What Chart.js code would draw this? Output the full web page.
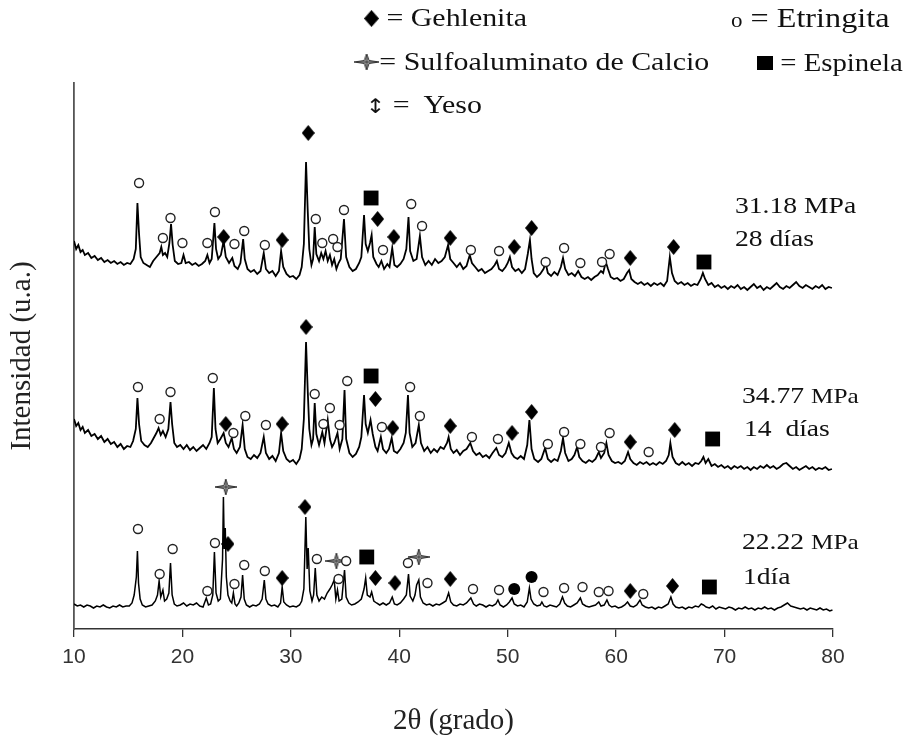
<!DOCTYPE html>
<html>
<head>
<meta charset="utf-8">
<script src="https://cdn.jsdelivr.net/npm/chart.js@4.4.1/dist/chart.umd.min.js"></script>
<style>
  body { margin: 0; background: #fff; }
  #wrap { position: relative; width: 904px; height: 740px; overflow: hidden; }
  #chart { position: absolute; left: 0; top: 0; }
  .t { position: absolute; font-family: 'Liberation Serif', 'Times New Roman', serif; color: #111;
       white-space: nowrap; line-height: 1; transform-origin: 0 50%; transform: scaleX(1.15); }
  .t canvas { vertical-align: middle; position: relative; top: -2px; }
</style>
</head>
<body>
<div id="wrap">
  <canvas id="chart" width="904" height="740"></canvas>

  <!-- legend -->
  <div class="t" style="left:364px;top:5px;font-size:26px"><canvas id="legDia" width="13" height="17"></canvas> = Gehlenita</div>
  <div class="t" style="left:731px;top:4px;font-size:28px"><span style="font-size:20px">o</span> = Etringita</div>
  <div class="t" style="left:354px;top:49px;font-size:26px"><canvas id="legSpark" width="22" height="16"></canvas>= Sulfoaluminato de Calcio</div>
  <div class="t" style="left:757px;top:50px;font-size:25px"><canvas id="legSq" width="14" height="14"></canvas> = Espinela</div>
  <div class="t" style="left:366px;top:92px;font-size:26px"><span style="font-family:'DejaVu Sans';font-size:20px">↕</span> =&nbsp; Yeso</div>

  <!-- sample labels -->
  <div class="t" style="left:735px;top:193px;font-size:24px">31.18 MPa</div>
  <div class="t" style="left:735px;top:226px;font-size:24px">28 días</div>
  <div class="t" style="left:742px;top:383px;font-size:24px">34.77 <span style="font-size:22px">MPa</span></div>
  <div class="t" style="left:744px;top:416px;font-size:24px">14&nbsp; días</div>
  <div class="t" style="left:742px;top:529px;font-size:24px">22.22 <span style="font-size:22px">MPa</span></div>
  <div class="t" style="left:743px;top:564px;font-size:24px">1día</div>
</div>

<script>
// 2theta range and tick labels
const xTicks = [10, 20, 30, 40, 50, 60, 70, 80];

// diffractograms [2theta, intensity]
const trace28 = [[10.0,388],[10.2,380],[10.4,384],[10.6,377],[10.8,379],[11.0,374],[11.3,376],[11.6,371],[11.9,373],[12.2,369],[12.5,371],[12.8,367],[13.1,369],[13.4,366],[13.7,368],[14.0,365],[14.3,367],[14.6,364],[14.9,366],[15.2,365],[15.5,370],[15.7,380],[15.85,426],[16.0,395],[16.15,372],[16.4,366],[16.7,364],[17.0,362],[17.3,368],[17.6,372],[17.9,376],[18.05,382],[18.2,374],[18.4,376],[18.6,372],[18.8,386],[18.95,405],[19.1,384],[19.3,368],[19.6,365],[19.9,366],[20.1,374],[20.3,366],[20.6,367],[20.9,364],[21.2,366],[21.5,363],[21.8,365],[22.1,368],[22.3,374],[22.5,366],[22.7,370],[22.95,406],[23.1,380],[23.3,370],[23.55,374],[23.8,388],[24.0,372],[24.3,366],[24.6,371],[24.8,363],[25.1,360],[25.35,366],[25.6,390],[25.75,370],[26.0,360],[26.3,357],[26.6,359],[26.9,355],[27.2,358],[27.5,376],[27.7,360],[28.0,356],[28.3,358],[28.6,353],[28.9,358],[29.1,378],[29.3,362],[29.6,355],[29.9,352],[30.2,353],[30.5,350],[30.8,354],[31.0,362],[31.2,385],[31.4,467],[31.55,420],[31.7,380],[31.9,364],[32.05,370],[32.2,402],[32.35,375],[32.6,368],[32.8,376],[33.0,370],[33.2,378],[33.4,368],[33.6,374],[33.8,364],[34.0,370],[34.2,360],[34.4,366],[34.6,370],[34.9,410],[35.1,372],[35.4,362],[35.7,358],[36.0,360],[36.3,366],[36.5,372],[36.75,414],[36.9,385],[37.1,378],[37.3,386],[37.45,394],[37.6,372],[37.9,365],[38.1,362],[38.35,368],[38.6,360],[38.9,365],[39.1,362],[39.35,381],[39.55,364],[39.8,362],[40.1,365],[40.4,370],[40.65,380],[40.85,412],[41.0,378],[41.3,368],[41.6,370],[41.9,393],[42.1,372],[42.4,364],[42.7,368],[43.0,364],[43.3,370],[43.6,366],[43.9,368],[44.2,372],[44.5,384],[44.7,370],[45.0,366],[45.3,362],[45.6,366],[45.9,360],[46.2,363],[46.5,374],[46.7,366],[47.0,362],[47.3,358],[47.6,360],[47.9,356],[48.2,358],[48.5,360],[48.8,364],[49.0,368],[49.2,360],[49.5,358],[49.8,362],[50.0,366],[50.2,372],[50.4,362],[50.7,358],[51.0,360],[51.3,356],[51.6,360],[51.85,375],[52.05,389],[52.2,370],[52.4,356],[52.7,352],[53.0,355],[53.3,360],[53.5,366],[53.7,356],[54.0,353],[54.3,357],[54.6,354],[54.9,362],[55.1,371],[55.3,360],[55.6,354],[55.9,356],[56.2,353],[56.5,358],[56.8,352],[57.1,350],[57.4,352],[57.7,349],[58.0,352],[58.3,354],[58.6,358],[58.8,356],[59.05,367],[59.25,360],[59.5,352],[59.8,350],[60.1,351],[60.4,348],[60.7,350],[61.0,356],[61.2,359],[61.4,350],[61.7,347],[62.0,345],[62.3,347],[62.6,344],[62.9,346],[63.2,343],[63.5,346],[63.8,344],[64.1,346],[64.4,343],[64.7,348],[64.95,372],[65.15,356],[65.4,348],[65.7,345],[66.0,347],[66.3,344],[66.6,346],[66.9,343],[67.2,345],[67.5,344],[67.8,350],[68.0,356],[68.2,350],[68.5,344],[68.8,346],[69.1,342],[69.4,344],[69.7,341],[70.0,343],[70.3,340],[70.6,343],[70.9,341],[71.2,344],[71.5,340],[71.8,342],[72.1,339],[72.4,342],[72.7,345],[73.0,341],[73.3,343],[73.6,339],[73.9,342],[74.2,340],[74.5,343],[74.8,346],[75.1,342],[75.4,340],[75.7,343],[76.0,341],[76.3,344],[76.6,347],[76.9,343],[77.2,341],[77.5,344],[77.8,342],[78.1,340],[78.4,343],[78.7,341],[79.0,344],[79.3,340],[79.6,342],[79.9,341]];

const trace14 = [[10.0,210],[10.2,203],[10.4,206],[10.6,199],[10.8,202],[11.0,196],[11.3,199],[11.6,193],[11.9,195],[12.2,190],[12.5,193],[12.8,187],[13.1,190],[13.4,185],[13.7,187],[14.0,182],[14.3,185],[14.6,180],[14.9,183],[15.2,182],[15.45,188],[15.7,200],[15.85,231],[16.0,205],[16.2,188],[16.5,184],[16.8,182],[17.1,186],[17.4,192],[17.6,196],[17.8,201],[18.0,194],[18.2,198],[18.45,192],[18.7,200],[18.9,227],[19.05,205],[19.25,186],[19.5,182],[19.8,184],[20.1,180],[20.4,184],[20.7,179],[21.0,182],[21.3,178],[21.6,181],[21.9,184],[22.2,180],[22.5,186],[22.7,192],[22.9,241],[23.05,200],[23.25,186],[23.5,190],[23.8,196],[24.0,186],[24.25,182],[24.55,191],[24.75,180],[25.0,176],[25.3,182],[25.55,204],[25.75,180],[26.0,172],[26.3,170],[26.6,174],[26.9,171],[27.2,176],[27.5,192],[27.7,176],[28.0,170],[28.3,173],[28.6,168],[28.9,176],[29.1,196],[29.3,178],[29.6,170],[29.9,167],[30.2,169],[30.5,165],[30.8,170],[31.0,180],[31.2,210],[31.4,287],[31.55,240],[31.7,200],[31.9,184],[32.05,190],[32.2,226],[32.35,195],[32.6,184],[32.9,197],[33.1,186],[33.4,209],[33.6,190],[33.8,182],[34.0,186],[34.3,196],[34.5,180],[34.75,190],[34.95,239],[35.1,190],[35.4,176],[35.7,172],[36.0,175],[36.3,182],[36.5,192],[36.75,234],[36.9,205],[37.1,196],[37.35,209],[37.55,195],[37.8,182],[38.0,178],[38.3,192],[38.5,180],[38.8,176],[39.05,180],[39.3,191],[39.5,178],[39.8,176],[40.1,180],[40.4,186],[40.6,196],[40.8,234],[40.95,196],[41.2,182],[41.5,186],[41.8,204],[42.0,186],[42.3,178],[42.6,182],[42.9,176],[43.2,180],[43.5,177],[43.8,182],[44.1,180],[44.4,186],[44.55,192],[44.75,180],[45.0,176],[45.3,179],[45.6,174],[45.9,178],[46.2,180],[46.55,186],[46.8,178],[47.1,174],[47.4,176],[47.7,172],[48.0,174],[48.3,171],[48.6,176],[48.95,181],[49.2,174],[49.5,172],[49.8,176],[50.1,186],[50.35,176],[50.6,172],[50.9,170],[51.2,173],[51.5,170],[51.8,184],[52.0,209],[52.2,180],[52.45,170],[52.8,167],[53.1,170],[53.45,181],[53.7,170],[54.0,167],[54.3,170],[54.6,168],[54.9,178],[55.1,191],[55.3,176],[55.6,168],[55.9,170],[56.15,174],[56.4,182],[56.6,172],[56.9,168],[57.2,166],[57.5,169],[57.8,167],[58.1,170],[58.4,177],[58.6,171],[58.9,176],[59.1,186],[59.3,174],[59.6,168],[59.9,166],[60.2,167],[60.5,165],[60.8,168],[61.1,177],[61.3,170],[61.6,166],[61.9,164],[62.2,167],[62.5,165],[62.8,167],[63.1,164],[63.4,166],[63.7,164],[64.0,167],[64.3,165],[64.6,168],[64.85,174],[65.0,186],[65.2,172],[65.5,166],[65.8,164],[66.1,167],[66.4,164],[66.7,166],[67.0,163],[67.3,166],[67.6,165],[67.85,168],[68.05,172],[68.25,166],[68.5,170],[68.8,163],[69.1,165],[69.4,162],[69.7,164],[70.0,161],[70.3,163],[70.6,160],[70.9,163],[71.2,161],[71.5,163],[71.8,160],[72.1,162],[72.4,159],[72.7,162],[73.0,160],[73.3,163],[73.6,161],[73.9,164],[74.2,161],[74.5,163],[74.8,160],[75.1,162],[75.4,165],[75.7,166],[76.0,163],[76.3,160],[76.6,162],[76.9,159],[77.2,161],[77.5,163],[77.8,160],[78.1,162],[78.4,159],[78.7,161],[79.0,160],[79.3,162],[79.6,159],[79.9,160]];

const trace1 = [[10.0,25],[10.3,23],[10.6,24],[10.9,22],[11.2,24],[11.5,23],[11.8,21],[12.1,23],[12.4,22],[12.7,24],[13.0,22],[13.3,21],[13.6,23],[13.9,22],[14.2,24],[14.5,22],[14.8,23],[15.1,23],[15.35,26],[15.55,34],[15.75,52],[15.85,78],[15.95,46],[16.1,30],[16.3,24],[16.6,22],[16.9,23],[17.2,24],[17.5,28],[17.7,34],[17.85,48],[18.0,32],[18.2,39],[18.35,28],[18.55,30],[18.75,36],[18.9,66],[19.05,34],[19.25,25],[19.5,23],[19.8,24],[20.1,26],[20.4,23],[20.7,25],[21.0,24],[21.3,26],[21.6,23],[21.9,22],[22.2,31],[22.4,24],[22.6,25],[22.8,34],[22.95,77],[23.1,36],[23.3,28],[23.5,30],[23.7,70],[23.78,132],[23.86,80],[23.95,101],[24.05,52],[24.2,34],[24.4,28],[24.55,26],[24.7,36],[24.85,25],[25.0,23],[25.2,26],[25.4,32],[25.55,54],[25.7,30],[25.9,24],[26.2,22],[26.5,24],[26.8,23],[27.1,25],[27.35,30],[27.55,49],[27.7,30],[27.9,25],[28.2,23],[28.5,24],[28.8,22],[29.05,26],[29.2,42],[29.35,27],[29.6,24],[29.9,22],[30.2,23],[30.5,22],[30.8,24],[31.0,28],[31.2,40],[31.38,112],[31.5,60],[31.6,81],[31.75,38],[31.95,28],[32.1,34],[32.25,61],[32.4,34],[32.6,28],[32.85,32],[33.1,30],[33.35,36],[33.6,40],[33.8,44],[34.0,49],[34.15,30],[34.3,39],[34.45,28],[34.7,30],[34.95,59],[35.1,32],[35.35,26],[35.6,24],[35.9,25],[36.2,27],[36.5,30],[36.75,40],[36.9,51],[37.05,34],[37.3,32],[37.45,37],[37.65,28],[37.9,26],[38.2,24],[38.5,26],[38.8,24],[39.1,26],[39.35,32],[39.55,25],[39.8,24],[40.1,26],[40.4,30],[40.65,34],[40.85,55],[41.0,33],[41.25,28],[41.45,34],[41.6,44],[41.8,49],[41.95,32],[42.2,26],[42.5,24],[42.8,25],[43.1,23],[43.4,25],[43.7,24],[44.0,26],[44.3,28],[44.55,36],[44.75,27],[45.0,24],[45.3,23],[45.6,25],[45.9,24],[46.2,26],[46.6,31],[46.85,25],[47.1,23],[47.4,25],[47.7,24],[48.0,22],[48.3,24],[48.6,23],[48.9,25],[49.1,29],[49.3,24],[49.6,22],[49.9,24],[50.15,27],[50.4,31],[50.6,25],[50.9,23],[51.2,24],[51.5,22],[51.8,27],[52.0,41],[52.15,30],[52.4,25],[52.7,23],[53.0,24],[53.15,27],[53.35,23],[53.6,22],[53.9,24],[54.2,23],[54.5,22],[54.8,25],[55.05,32],[55.25,26],[55.5,23],[55.8,22],[56.1,24],[56.4,26],[56.7,31],[56.9,25],[57.2,23],[57.5,22],[57.8,23],[58.1,24],[58.4,27],[58.6,23],[58.9,24],[59.15,29],[59.35,24],[59.6,22],[59.9,23],[60.2,21],[60.5,22],[60.8,24],[61.05,27],[61.3,23],[61.6,22],[61.9,24],[62.2,29],[62.4,24],[62.7,22],[63.0,21],[63.3,22],[63.6,20],[63.9,22],[64.2,21],[64.5,23],[64.8,25],[65.05,32],[65.25,25],[65.5,22],[65.8,21],[66.1,22],[66.4,20],[66.7,22],[67.0,21],[67.3,23],[67.6,22],[67.85,25],[68.05,24],[68.3,22],[68.6,21],[68.9,23],[69.2,20],[69.5,22],[69.8,21],[70.1,20],[70.4,22],[70.7,21],[71.0,19],[71.3,21],[71.6,20],[71.9,22],[72.2,20],[72.5,21],[72.8,19],[73.1,21],[73.4,20],[73.7,22],[74.0,20],[74.3,21],[74.6,19],[74.9,21],[75.2,22],[75.5,24],[75.8,26],[76.1,23],[76.4,22],[76.7,21],[77.0,20],[77.3,21],[77.6,19],[77.9,21],[78.2,20],[78.5,19],[78.8,21],[79.1,19],[79.4,20],[79.7,18],[79.95,19]];

// phase marks [2theta, height] for each sample
const etringita = [
  [16.0,446],[18.2,391],[18.9,411],[20.0,386],[22.3,386],[23.0,417],[24.8,385],[25.7,398],[27.6,384],[32.3,410],[32.9,386],[33.9,390],[34.3,382],[34.9,419],[38.5,379],[41.1,425],[42.1,403],[46.6,379],[49.2,378],[53.5,367],[55.2,381],[56.7,366],[58.7,367],[59.4,375],
  [15.9,242],[17.9,210],[18.9,237],[22.8,251],[24.7,196],[25.8,213],[27.7,204],[32.2,235],[33.0,205],[33.6,221],[34.5,204],[35.2,248],[38.4,202],[41.0,242],[41.9,213],[46.7,192],[49.1,190],[53.7,185],[55.2,197],[56.7,185],[58.6,182],[59.4,196],[63.0,177],
  [15.9,100],[17.9,55],[19.1,80],[22.3,38],[23.0,86],[24.8,45],[25.7,64],[27.6,58],[32.4,70],[34.4,50],[35.1,68],[40.8,66],[42.6,46],[46.8,40],[49.2,39],[53.3,37],[55.2,41],[56.9,42],[58.4,37],[59.3,38],[62.5,35]
];
const gehlenita = [
  [31.6,496],[23.8,392],[29.2,389],[38.0,410],[39.5,392],[44.7,391],[50.6,382],[52.2,401],[61.3,371],[65.3,382],
  [31.4,302],[24.0,205],[29.2,205],[37.8,230],[39.4,201],[44.7,203],[50.4,196],[52.2,217],[61.3,187],[65.4,199],
  [31.3,122],[24.2,85],[29.2,51],[37.8,51],[39.6,46],[44.7,50],[61.3,38],[65.2,43]
];
const espinela = [[37.4,431],[68.1,367],[37.4,253],[68.9,190],[37.0,72],[68.6,42]];
const sulfoaluminato = [[24.0,142],[34.2,68],[41.8,72]];
const otraFase = [[50.6,40],[52.2,52]];

function diamond(w, h) {
  const c = document.createElement('canvas');
  c.width = w; c.height = h;
  const g = c.getContext('2d');
  g.fillStyle = '#000';
  g.beginPath();
  g.moveTo(w / 2, 0); g.lineTo(w, h / 2); g.lineTo(w / 2, h); g.lineTo(0, h / 2);
  g.closePath(); g.fill();
  return c;
}

function sparkle(c) {
  c = c || document.createElement('canvas');
  c.width = 22; c.height = 16;
  const g = c.getContext('2d');
  g.strokeStyle = '#333'; g.fillStyle = '#bbb'; g.lineWidth = 1;
  g.beginPath();
  g.moveTo(0, 8); g.lineTo(9, 6.5); g.lineTo(11, 0); g.lineTo(13, 6.5);
  g.lineTo(22, 8); g.lineTo(13, 9.5); g.lineTo(11, 16); g.lineTo(9, 9.5);
  g.closePath(); g.fill(); g.stroke();
  g.beginPath(); g.moveTo(11, 1); g.lineTo(11, 15); g.moveTo(2, 8); g.lineTo(20, 8); g.stroke();
  return c;
}

// legend symbols
(function () {
  const d = document.getElementById('legDia').getContext('2d');
  d.drawImage(diamond(13, 17), 0, 0);
  sparkle(document.getElementById('legSpark'));
  const s = document.getElementById('legSq').getContext('2d');
  s.fillStyle = '#000'; s.fillRect(0, 0, 14, 14);
})();

const lineStyle = { showLine: true, borderColor: '#000', pointRadius: 0, order: 2 };

const chart = new Chart(document.getElementById('chart'), {
  type: 'scatter',
  data: {
    datasets: [
      { label: '28 días', data: trace28, borderWidth: 1.8, ...lineStyle },
      { label: '14 días', data: trace14, borderWidth: 1.8, ...lineStyle },
      { label: '1 día', data: trace1, borderWidth: 1.5, ...lineStyle },
      { label: 'Etringita', data: etringita, pointStyle: 'circle', pointRadius: 4.5, borderWidth: 1.4, borderColor: '#222', backgroundColor: '#fff', order: 1 },
      { label: 'Gehlenita', data: gehlenita, pointStyle: diamond(13, 16), pointRadius: 5, order: 1 },
      { label: 'Espinela', data: espinela, pointStyle: 'rect', pointRadius: 10.5, borderWidth: 0, backgroundColor: '#000', order: 1 },
      { label: 'Sulfoaluminato de Calcio', data: sulfoaluminato, pointStyle: sparkle(), pointRadius: 5, order: 1 },
      { label: 'otra fase', data: otraFase, pointStyle: 'circle', pointRadius: 6, borderWidth: 0, backgroundColor: '#000', order: 1 }
    ]
  },
  options: {
    responsive: false,
    animation: false,
    layout: { padding: { top: 83, right: 71, left: 0, bottom: 0 } },
    plugins: { legend: { display: false }, tooltip: { enabled: false } },
    scales: {
      x: {
        type: 'linear', min: 10, max: 80,
        afterBuildTicks: s => { s.ticks = xTicks.map(v => ({ value: v })); },
        afterFit: s => { s.height = 111; },
        ticks: { color: '#333', padding: 8, font: { family: "'Liberation Sans Narrow', 'Liberation Sans', sans-serif", size: 21 } },
        grid: { drawOnChartArea: false, tickLength: 8, color: '#333', lineWidth: 1.3 },
        border: { color: '#333', width: 1.5 },
        title: { display: true, text: '2θ (grado)', color: '#222', padding: { top: 0, bottom: 1 },
                 font: { family: "'Liberation Serif', serif", size: 29 } }
      },
      y: {
        min: 0, max: 546,
        afterFit: s => { s.width = 74; },
        ticks: { display: false },
        grid: { display: false },
        border: { color: '#555', width: 1.8 },
        title: { display: true, text: 'Intensidad (u.a.)', color: '#222', padding: { top: 5, bottom: 0 },
                 font: { family: "'Liberation Serif', serif", size: 29 } }
      }
    }
  }
});
</script>
</body>
</html>
